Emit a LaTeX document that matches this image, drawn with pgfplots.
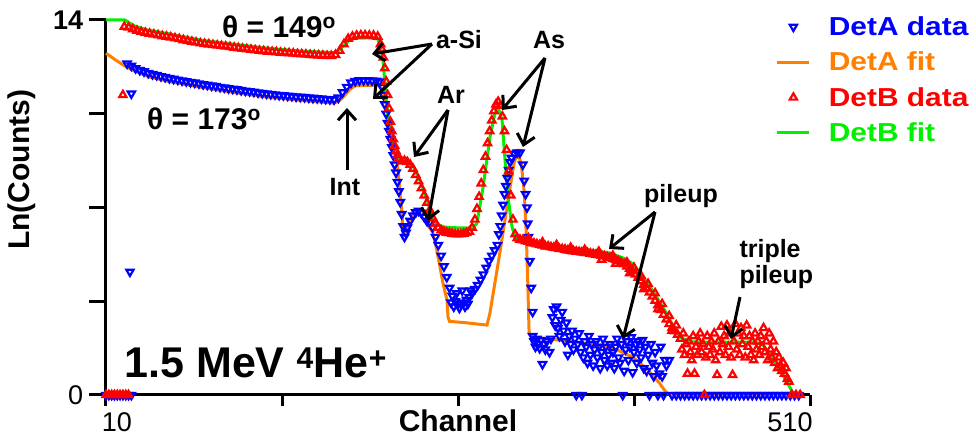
\documentclass[border=0pt]{standalone}
\usepackage{pgfplots}
\pgfplotsset{compat=1.18}
\usepackage{fontspec}
\setmainfont{Liberation Sans}
\usepackage{graphicx}
\usetikzlibrary{arrows.meta}
\definecolor{dblue}{RGB}{0,0,255}
\definecolor{dorange}{RGB}{255,128,0}
\definecolor{dred}{RGB}{255,0,0}
\definecolor{dgreen}{RGB}{0,240,0}
\newcommand{\lbl}{\fontsize{25}{30}\selectfont\bfseries}
\begin{document}
\begin{tikzpicture}
\useasboundingbox (-106pt,-43pt) rectangle (870pt,395pt);
\begin{axis}[
  scale only axis, width=704pt, height=375pt,
  xmin=10, xmax=510, ymin=0, ymax=14,
  axis x line=bottom, axis y line=left,
  axis line style={-, line width=3pt, black},
  tick align=outside,
  xtick={10,135,260,385,510}, xticklabels={\hspace*{22pt}10,,,,510\hspace*{40pt}},
  ytick={0,3.5,7,10.5,14}, yticklabels={0,,,,\textbf{14}},
  xtick style={line width=3pt, black, /pgfplots/major tick length=11pt},
  ytick style={line width=3pt, black, /pgfplots/major tick length=17pt},
  tick label style={font=\fontsize{27}{30}\selectfont},
  xticklabel style={yshift=-10pt},
  yticklabel style={xshift=-15pt},
  xlabel={Channel}, ylabel={Ln(Counts)},
  label style={font=\fontsize{30}{34}\selectfont\bfseries},
  xlabel style={at={(rel axis cs:0.5,-0.07)}, anchor=center},
  ylabel style={at={(rel axis cs:-0.12,0.6)}, anchor=center},
  clip=false,
  legend style={at={(rel axis cs:0.947,1.02)}, anchor=north west, draw=none, fill=none,
    font=\fontsize{26}{30}\selectfont\bfseries, row sep=11pt,
    /tikz/every odd column/.append style={column sep=16pt}},
  legend cell align=left,
  legend image code/.code={\draw[mark repeat=2,mark phase=2,#1] plot coordinates {(0pt,0pt) (16pt,0pt) (32pt,0pt)};},
]
% DetA data
\addplot[only marks, color=dblue, mark=triangle, mark size=4.2pt, mark options={rotate=180, line width=2.2pt, solid}] coordinates {
(10,0)(12,0)(14,0)(16,0)(18,0)(20,0)(22,0)(24,0)(26,0)(28,0)(27,4.6)(28,11.25)
(25,12.37)(28,12.29)(31,12.2)(34,12.13)(37,12.08)(40,12.02)(43,11.98)(46,11.94)(49,11.9)(52,11.87)(55,11.83)(58,11.8)(61,11.77)(64,11.74)(67,11.71)(70,11.68)(73,11.66)(76,11.63)(79,11.6)(82,11.58)(85,11.55)(88,11.53)(91,11.5)(94,11.48)(97,11.45)(100,11.43)(103,11.41)(106,11.38)(109,11.36)(112,11.34)(115,11.32)(118,11.29)(121,11.27)(124,11.25)(127,11.23)(130,11.22)(133,11.2)(136,11.19)(139,11.17)(142,11.16)(145,11.14)(148,11.13)(151,11.12)(154,11.1)(157,11.09)(160,11.08)(163,11.07)(166,11.05)(169,11.04)(172,11.03)(175,11.1)(178,11.3)(181,11.5)(184,11.66)(187,11.72)(190,11.75)(193,11.75)(196,11.75)(199,11.74)(202,11.73)(204,11.7)
(206,11.5)(207,11.2)(208,10.85)(209,10.5)(210,10.15)(211,9.85)(212,9.55)(213,9.25)(214,8.95)(215,8.6)(216,8.3)(217,7.95)(218,7.6)(219,7.2)(220,6.75)(221,6.3)(222,5.9)(223,6.05)(224,6.25)(226,6.5)(228,6.7)(230,6.82)(232,6.88)(234,6.8)(236,6.65)(238,6.5)
(240,6.45)(242,6.25)(244,5.9)(246,5.6)(248,5.2)(250,4.8)(252,4.4)(254,4.0)(256,3.7)(258,3.5)(260,3.4)(262,3.4)(264,3.45)(266,3.55)(268,3.65)(270,3.8)(272,3.95)(274,4.1)(276,4.3)(278,4.5)(280,4.75)(282,5.0)(284,5.2)(286,5.4)(288,5.6)(289,6.0)(290,6.3)(291,6.7)(292,7.1)(293,7.5)(294,7.8)(295,8.1)(296,8.4)(297,8.7)(298,8.85)(300,9.0)(302,9.05)(304,9.05)(306,8.6)(307,8.0)(308,7.5)(309,7.0)(309.5,6.4)(310,5.9)(311,5.0)(312,4.0)(313,3.1)
(257,3.3)(261,3.25)(265,3.3)(259,3.8)(263,3.9)(267,3.4)(255,3.45)(269,3.9)
(313,2.2)(314,2.0)(315,1.8)(316,2.1)(317,1.9)(318,1.75)(319,2.05)(320,1.15)(321,1.9)(322,1.7)(323,2.0)(325,1.6)(326,2.1)(327,2.9)(328,3.2)(329,2.6)(330,3.3)(331,2.5)(332,2.2)(333,2.8)(334,3.1)(335,2.4)(336,2.0)(337,2.7)(338,1.5)(339,2.2)(340,1.9)(341,2.4)(342,1.7)(343,2.1)(344,0)(345,1.9)(346,2.3)(347,1.6)(348,0)(349,1.4)(350,2.0)(351,1.8)(352,1.2)(353,2.2)(354,1.5)(355,1.9)(356,1.1)(357,1.7)(358,2.0)(359,1.4)(360,1.8)(361,1.0)(362,1.6)(363,2.1)(364,1.3)(365,1.8)(366,1.1)(367,1.5)(368,1.9)(369,1.2)(370,1.6)(371,1.0)(372,1.8)(373,2.1)(374,1.4)(375,1.2)(376,1.9)(377,0)(378,0.9)(379,1.7)(380,2.0)(381,1.3)(382,1.8)(383,2.15)(384,0.85)(385,1.6)(386,1.9)(387,1.2)(388,2.0)(389,1.7)(390,1.4)(391,2.05)(392,1.0)(393,1.8)(394,0.9)(395,1.5)(396,0)(397,1.9)(398,1.2)(399,0.7)(400,1.6)(401,1.1)(402,0)(403,0.8)(404,1.8)(405,0.7)(406,0)(407,1.3)(408,1.1)(410,1.3)
(412,0)(415,0)(418,0)(421,0)(424,0)(427,0)(430,0)(433,0)(436,0)(439,0)(442,0)(445,0)(448,0)(451,0)(454,0)(457,0)(460,0)(463,0)(466,0)(469,0)(472,0)(475,0)(478,0)(481,0)(484,0)(487,0)(490,0)(493,0)(496,0)(499,0)(502,0)
};
\addlegendentry{\scalebox{1.15}[1]{\textcolor{dblue}{DetA data}}}
% DetA fit
\addplot[color=dorange, line width=3pt, no marks] coordinates {
(10,12.76)(17,12.5)(23.5,12.28)(30,12.1)(41,11.87)(55,11.7)(77,11.49)(100,11.3)(124,11.12)(148,11.0)(171,10.9)(175,10.95)(179,11.15)(183,11.4)(187,11.55)(204,11.57)(206.5,11.4)(208.5,11.0)(210.5,10.5)(213.8,9.63)(217.4,8.4)(220.2,6.79)(221,5.95)(223,6.1)(226,6.5)(229,6.75)(231.6,6.8)(235,6.6)(239,6.3)(242,6.08)(245,5.4)(249.3,4.18)(252.2,3.54)(252.9,2.91)(254,2.75)(265,2.7)(280.6,2.61)(282.7,3.06)(290,5.4)(297,7.76)(300,8.7)(302.6,9.05)(305,8.6)(307,7.6)(308.5,6.0)(309.5,4.3)(310.5,2.3)(313,2.16)(340,2.0)(361,1.85)(373,1.68)(384,1.42)(394,0.98)(403,0.45)(408,0.08)(411,0)(503,0)
};
\addlegendentry{\scalebox{1.15}[1]{\textcolor{dorange}{DetA fit}}}
% DetB data
\addplot[only marks, color=dred, mark=triangle, mark size=4.2pt, mark options={line width=2.2pt, solid}] coordinates {
(10,0)(12,0)(14,0)(16,0)(18,0)(20,0)(22,0)(24,0)(26,0)(22,11.2)
(23,13.75)(26,13.72)(29,13.66)(32,13.6)(35,13.55)(38,13.52)(41,13.49)(44,13.46)(47,13.43)(50,13.4)(53,13.38)(56,13.35)(59,13.32)(62,13.29)(65,13.25)(68,13.22)(71,13.19)(74,13.16)(77,13.13)(80,13.11)(83,13.09)(86,13.07)(89,13.05)(92,13.03)(95,13.01)(98,12.99)(101,12.97)(104,12.95)(107,12.93)(110,12.91)(113,12.89)(116,12.87)(119,12.85)(122,12.84)(125,12.82)(128,12.81)(131,12.8)(134,12.78)(137,12.77)(140,12.76)(143,12.75)(146,12.73)(149,12.72)(152,12.71)(155,12.7)(158,12.69)(161,12.68)(164,12.67)(167,12.66)(170,12.66)(173,12.7)(176,12.85)(179,13.1)(182,13.3)(185,13.38)(188,13.42)(191,13.43)(194,13.43)(197,13.42)(200,13.42)(203,13.38)
(205,13.1)(206,12.9)(207,12.6)(208,12.2)(209,11.7)(210,11.2)(211,10.7)(212,10.2)(213,9.85)(214,9.55)(215,9.3)(216,9.1)(217,8.95)(218,8.82)(220,8.72)(222,8.74)(224,8.7)(226,8.6)(228,8.45)(230,8.22)(232,7.98)(234,7.72)(236,7.45)(238,7.18)(240,6.9)(242,6.62)(244,6.4)(246,6.25)(248,6.15)(250,6.1)(252,6.06)(254,6.04)(256,6.02)(258,6.0)(260,6.0)(262,6.0)(264,6.02)(266,6.05)(268,6.1)(270,6.25)(272,6.55)(273.5,6.95)(275,7.4)(276.5,7.9)(278,8.4)(279.5,8.9)(281,9.4)(282.5,9.85)(284,10.25)(285.5,10.6)(287,10.85)(288.5,10.95)(290,10.8)(291.5,10.4)(293,9.85)(294.5,9.15)(296,8.35)(297.5,7.45)(299,6.55)(300.5,6.0)(302,5.85)
(304,5.8)(306,5.78)(308,5.74)(310,5.72)(312,5.68)(314,5.66)(316,5.63)(318,5.6)(320,5.58)(322,5.55)(324,5.55)(326,5.52)(328,5.5)(330,5.48)(332,5.45)(334,5.45)(336,5.43)(338,5.4)(340,5.38)(342,5.37)(344,5.35)(346,5.34)(348,5.32)(350,5.3)(352,5.3)(354,5.28)(356,5.26)(358,5.24)(360,5.22)(362,5.2)(364,5.18)(366,5.15)(368,5.12)(370,5.08)(372,5.04)(374,5.0)(376,4.94)(378,4.88)(380,4.8)(382,4.72)(384,4.62)(386,4.5)(388,4.38)(390,4.25)(392,4.12)(394,3.98)(396,3.83)(398,3.68)(400,3.52)(402,3.35)(404,3.18)(406,3.0)(408,2.82)(410,2.65)(412,2.5)(414,2.38)(416,2.25)
(310,5.85)(320,5.7)(330,5.6)(340,5.5)(350,5.42)(360,5.35)(370,5.2)(380,4.95)(385,4.75)(390,4.45)(395,4.15)(400,3.8)(405,3.4)(410,2.95)(415,2.6)(362,5.05)(372,4.9)(382,4.55)(392,3.95)(402,3.2)(412,2.4)
(418,2.1)(419,1.7)(420,2.3)(421,1.5)(422,1.9)(423,0.8)(424,2.0)(425,1.6)(426,1.3)(427,2.2)(428,0.8)(429,1.8)(430,1.5)(431,2.0)(432,2.3)(433,1.6)(434,1.9)(435,0)(436,1.4)(437,2.2)(438,1.8)(439,1.5)(440,2.0)(441,1.7)(442,2.3)(443,1.3)(444,0.75)(445,2.0)(446,1.6)(447,2.55)(448,1.9)(449,2.2)(450,1.5)(451,2.6)(452,1.8)(453,2.3)(454,1.4)(455,0.75)(456,2.0)(457,2.65)(458,1.7)(459,2.3)(460,1.5)(461,2.5)(462,1.9)(463,2.2)(464,1.4)(465,2.6)(466,1.8)(467,2.2)(468,1.5)(469,2.0)(470,1.3)(471,2.3)(472,1.7)(473,2.0)(474,1.5)(475,2.2)(476,1.8)(477,2.5)(478,1.6)(479,2.0)(480,1.3)(481,2.3)(482,1.7)(483,1.4)(484,2.0)(485,1.2)(486,1.6)(487,1.0)(488,1.4)(489,1.1)(490,0.9)(491,1.2)(492,0.8)(493,1.0)(494,0.6)(495,0.5)(497,0)(500,0)(503,0)
};
\addlegendentry{\scalebox{1.15}[1]{\textcolor{dred}{DetB data}}}
% DetB fit
\addplot[color=dgreen, line width=3pt, no marks] coordinates {
(10,14.0)(23.5,14.0)(27,13.88)(30,13.78)(40,13.62)(53,13.5)(77,13.25)(100,13.1)(124,12.95)(148,12.84)(172,12.78)(175,12.85)(179,13.05)(183,13.25)(187,13.32)(196,13.33)(203,13.3)(205,13.0)(206.7,12.5)(208.5,11.4)(210.3,10.26)(213,9.6)(215.3,9.03)(218.8,8.69)(224,8.68)(228,8.55)(233,8.0)(238,7.3)(242,6.55)(246,6.35)(250,6.27)(260,6.24)(270.7,6.23)(273.5,6.42)(277.8,7.76)(282.7,9.63)(286.3,10.52)(288.4,10.75)(291.3,10.26)(293.4,8.77)(295.5,7.39)(298.4,6.27)(300.5,5.9)(305,5.78)(311,5.72)(325,5.62)(337,5.52)(355,5.4)(368,5.3)(378,5.1)(384,4.9)(391,4.45)(398,3.92)(404,3.4)(408,3.06)(413,2.55)(418,2.16)(423,2.0)(427,1.98)(440,1.97)(455,1.98)(470,1.97)(476,1.9)(480,1.65)(485,1.25)(489,0.9)(494,0.45)(498,0.07)(500,0)(503,0)
};
\addlegendentry{\scalebox{1.15}[1]{\textcolor{dgreen}{DetB fit}}}
\end{axis}
\begin{scope}[x=1pt,y=-1pt,shift={(-106pt,395pt)}, line width=3pt, arr/.style={-{Straight Barb[length=10pt,width=18pt]}}]
\node[font=\fontsize{30}{34}\selectfont\bfseries] at (279,27) {θ = 149\textsuperscript{o}};
\node[font=\fontsize{30}{34}\selectfont\bfseries] at (204,119) {θ = 173\textsuperscript{o}};
\node[font=\lbl] at (345,187) {Int};
\draw[arr] (347,170) -- (347,108);
\node[font=\lbl] at (459,40) {a-Si};
\draw[arr] (432,44) -- (372,54);
\draw[arr] (432,44) -- (373,99);
\node[font=\lbl] at (549,40) {As};
\draw[arr] (545,58) -- (502,110);
\draw[arr] (545,58) -- (523,147);
\node[font=\lbl] at (451,95) {Ar};
\draw[arr] (448,110) -- (414,157);
\draw[arr] (448,110) -- (428,221);
\node[font=\lbl] at (681,196) {pileup};
\draw[arr] (655,212) -- (609,249);
\draw[arr] (655,212) -- (623,339);
\node[font=\lbl, align=left, anchor=west, inner sep=0pt] at (738,264) {triple\\[-4pt]pileup};
\draw[arr] (740,297) -- (731,339);
\node[font=\fontsize{43}{48}\selectfont\bfseries, anchor=base west, inner sep=0pt] at (123,378) {1.5 MeV \textsuperscript{4}He\textsuperscript{+}};
\end{scope}
\end{tikzpicture}
\end{document}
